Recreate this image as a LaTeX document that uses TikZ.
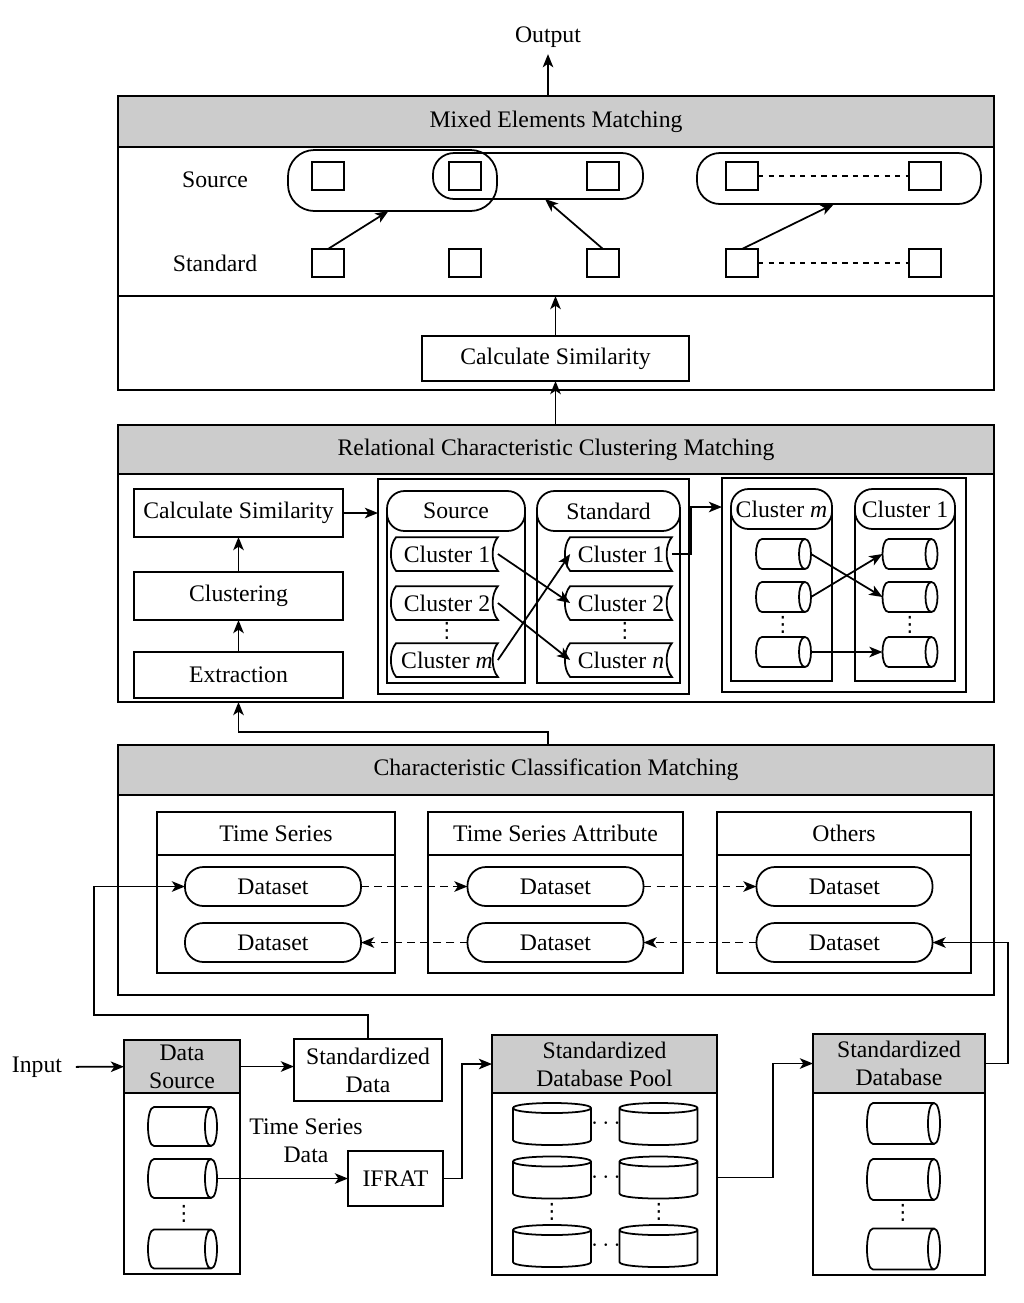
\documentclass[tikz,border=0pt]{standalone}
\usepackage{fontspec}
\setmainfont{Liberation Serif}
\newfontfamily\dotfont{DejaVu Sans}
\usepackage{tikz}
\usetikzlibrary{arrows.meta,calc,positioning}
\newlength\unitpx
\setlength\unitpx{0.02cm}
\tikzset{
    flow/.style={>={Stealth[length=7.5pt,width=6pt,inset=2pt]}, line width=1pt,
                 x=0.02cm, y=-0.02cm, font=\fontsize{13.5}{16}\selectfont},
    box/.style 2 args={draw, minimum width=#1\unitpx, minimum height=#2\unitpx,
                 inner sep=0pt, outer sep=0pt},
    head/.style 2 args={box={#1}{#2}, fill=gray!40},
    pill/.style 2 args={box={#1}{#2}, rounded corners=10pt},
    dataset/.style={pill={176}{39}, rounded corners=10.5pt},
    sq/.style={box={32}{28}},
    tag/.style={minimum width=100\unitpx, minimum height=32\unitpx, inner sep=0pt},
    drum/.style 2 args={minimum width=#1\unitpx, minimum height=#2\unitpx,
                 inner sep=0pt, outer sep=0pt},
    dots/.style={inner sep=0pt, font=\dotfont\fontsize{12}{12}\selectfont},
    dashflow/.style={->, dash pattern=on 4.5pt off 3pt},
}

\begin{document}
\begin{tikzpicture}[flow]
\useasboundingbox (0,0) rectangle (1024,1303);

% mixed elements matching
\node (out) at (548,37) {Output};
\node[head={876}{51}] (mem) at (556,121.5) {Mixed Elements Matching};
\node[box={876}{149}] (memTop) at (556,221.5) {};
\node[box={876}{94}] (memLow) at (556,343) {};
\node (srcLbl) at (215,180) {Source};
\node (stdLbl) at (215,263) {Standard};
\node[pill={209}{61}, rounded corners=15pt] (g1) at (392.5,180.5) {};
\node[pill={210}{46}, rounded corners=12pt] (g2) at (538,176) {};
\node[pill={284}{51}, rounded corners=13pt] (g3) at (839,178.5) {};
\foreach \i/\x in {1/328,2/465,3/603,4/742,5/925} {
    \node[sq] (a\i) at (\x,176) {};
    \node[sq] (b\i) at (\x,263) {};
}
\node[box={267}{45}] (simA) at (555.5,358.5) {Calculate Similarity};

\draw[dashed] (a4) -- (a5);
\draw[dashed] (b4) -- (b5);
\draw[->] (b1.north) -- ([xshift=-4\unitpx]g1.south);
\draw[->] (b3.north) -- ([xshift=7\unitpx]g2.south);
\draw[->] (b4.north) -- ([xshift=-5\unitpx]g3.south);
\draw[->] (mem.north -| out) -- (out);
\draw[->] (simA) -- (simA.north |- memTop.south);

% relational characteristic clustering matching
\node[head={876}{49}] (rcc) at (556,449.5) {Relational Characteristic Clustering Matching};
\node[box={876}{228}] (rccBody) at (556,588) {};
\node[box={209}{48}] (simB) at (238.5,513) {Calculate Similarity};
\node[box={209}{48}] (clus) at (238.5,596) {Clustering};
\node[box={209}{46}] (extr) at (238.5,675) {Extraction};

\node[box={311}{215}] (mid) at (533.5,586.5) {};
\node[box={138}{173}] (srcBox) at (456,596.5) {};
\node[pill={138}{40}, fill=white] (srcHead) at (456,511) {Source};
\node[box={143}{173}] (stdBox) at (608.5,596.5) {};
\node[pill={143}{40}, fill=white] (stdHead) at (608.5,511) {Standard};
\node[tag] (sc1) at (447,554) {Cluster 1};
\node[tag] (sc2) at (447,603) {Cluster 2};
\node[dots] (sDots) at (447,631) {⋮};
\node[tag] (scm) at (447,660) {Cluster \textit{m}};
\node[tag] (tc1) at (621,554) {Cluster 1};
\node[tag] (tc2) at (621,603) {Cluster 2};
\node[dots] (tDots) at (625,631) {⋮};
\node[tag] (tcn) at (621,660) {Cluster \textit{n}};
\foreach \t in {sc1,sc2,scm,tc1,tc2,tcn}
    \draw (\t.north west) -- (\t.north east)
          .. controls ($(\t.north east)+(-7,8)$) and ($(\t.south east)+(-7,-8)$) .. (\t.south east)
          -- (\t.south west)
          .. controls ($(\t.south west)+(-7,-8)$) and ($(\t.north west)+(-7,8)$) .. cycle;

\node[box={244}{214}] (rgt) at (844,585) {};
\coordinate (rgtIn) at (722,507);
\node[box={101}{171}] (cmBox) at (781.5,595.5) {};
\node[pill={101}{40}, fill=white] (cmHead) at (781.5,509) {Cluster \textit{m}};
\node[box={100}{171}] (c1Box) at (905,595.5) {};
\node[pill={100}{40}, fill=white] (c1Head) at (905,509) {Cluster 1};
\foreach \i/\y in {1/554,2/597,3/652} {
    \node[drum={55}{30}] (cm\i) at (783.5,\y) {};
    \node[drum={55}{30}] (co\i) at (910,\y) {};
}
\node[dots] (cmDots) at (783,625) {⋮};
\node[dots] (coDots) at (910,625) {⋮};

\draw[->] (extr) -- (clus);
\draw[->] (clus) -- (simB);
\draw[->] (simB) -- (simB -| mid.west);
\draw[->] (simA.south |- rcc.north) -- (simA);
\draw[->] (sc1.east) -- (tc2.west);
\draw[->] (sc2.east) -- (tcn.west);
\draw[->] (scm.east) -- (tc1.west);
\draw[->] (tc1.east) -| ($(rgtIn)+(-31,0)$) -- (rgtIn);
\draw[->] (cm1.east) -- (co2.west);
\draw[->] (cm2.east) -- (co1.west);
\draw[->] (cm3.east) -- (co3.west);

% characteristic classification matching
\node[head={876}{50}] (ccm) at (556,770) {Characteristic Classification Matching};
\node[box={876}{200}] (ccmBody) at (556,895) {};
\node[box={238}{43}] (tsHead) at (276,833.5) {Time Series};
\node[box={238}{118}] (tsBody) at (276,914) {};
\node[box={255}{43}] (tsaHead) at (555.5,833.5) {Time Series Attribute};
\node[box={255}{118}] (tsaBody) at (555.5,914) {};
\node[box={254}{43}] (othHead) at (844,833.5) {Others};
\node[box={254}{118}] (othBody) at (844,914) {};
\node[dataset] (d11) at (273,886.5) {Dataset};
\node[dataset] (d12) at (555.5,886.5) {Dataset};
\node[dataset] (d13) at (844.5,886.5) {Dataset};
\node[dataset] (d21) at (273,942.5) {Dataset};
\node[dataset] (d22) at (555.5,942.5) {Dataset};
\node[dataset] (d23) at (844.5,942.5) {Dataset};

\draw[dashflow] (d11) -- (d12);
\draw[dashflow] (d12) -- (d13);
\draw[dashflow] (d23) -- (d22);
\draw[dashflow] (d22) -- (d21);
\draw[->] ([xshift=-8\unitpx]ccm.north) -- ++(0,-13) -| (extr.south |- rccBody.south);

% sources and databases
\node (inp) at (37,1067) {Input};
\node[head={116}{53}, align=center] (dsHead) at (182,1066.5) {Data\\Source};
\node[box={116}{181}] (dsBody) at (182,1183.5) {};
\foreach \i/\y in {1/1126.5,2/1178.5,3/1249}
    \node[drum={69}{39}] (dc\i) at (182.5,\y) {};
\node[dots] (dsDots) at (184,1214) {⋮};
\node[box={148}{62}, align=center] (sd) at (368,1070) {Standardized\\Data};
\node[align=center] (tsd) at (306,1141) {Time Series\\Data};
\node[box={95}{55}] (ifr) at (395.5,1178.5) {IFRAT};

\node[head={225}{58}, align=center] (poolHead) at (604.5,1064) {Standardized\\Database Pool};
\node[box={225}{182}] (poolBody) at (604.5,1184) {};
\foreach \r/\y in {1/1124,2/1177.5,3/1246} {
    \node[drum={78}{42}] (pa\r) at (552,\y) {};
    \node[drum={78}{42}] (pb\r) at (658.5,\y) {};
    \node (ph\r) at (606,\y) {$\cdots$};
}
\node[dots] (paDots) at (552,1212) {⋮};
\node[dots] (pbDots) at (659,1212) {⋮};

\node[head={172}{59}, align=center] (sdbHead) at (899,1063.5) {Standardized\\Database};
\node[box={172}{182}] (sdbBody) at (899,1184) {};
\foreach \i/\y in {1/1123.5,2/1179.5,3/1249}
    \node[drum={73}{41}] (db\i) at (903.5,\y) {};
\node[dots] (dbDots) at (903,1213) {⋮};

% drum outlines
\foreach \d in {cm1,cm2,cm3,co1,co2,co3,dc1,dc2,dc3,db1,db2,db3}
    \draw ($(\d.north west)+(6,0)$)
          .. controls ($(\d.north west)+(-2,0)$) and ($(\d.south west)+(-2,0)$) .. ($(\d.south west)+(6,0)$)
          -- ($(\d.south east)+(-6,0)$)
          .. controls ($(\d.south east)+(2,0)$) and ($(\d.north east)+(2,0)$) .. ($(\d.north east)+(-6,0)$)
          -- cycle
          ($(\d.north east)+(-6,0)$)
          .. controls ($(\d.north east)+(-14,0)$) and ($(\d.south east)+(-14,0)$) .. ($(\d.south east)+(-6,0)$);
\foreach \d in {pa1,pa2,pa3,pb1,pb2,pb3}
    \draw ($(\d.north west)+(0,5)$) -- ($(\d.south west)+(0,-5)$)
          .. controls ($(\d.south west)+(0,1.7)$) and ($(\d.south east)+(0,1.7)$) .. ($(\d.south east)+(0,-5)$)
          -- ($(\d.north east)+(0,5)$)
          .. controls ($(\d.north east)+(0,-1.7)$) and ($(\d.north west)+(0,-1.7)$) .. cycle
          ($(\d.north west)+(0,5)$)
          .. controls ($(\d.north west)+(0,11.7)$) and ($(\d.north east)+(0,11.7)$) .. ($(\d.north east)+(0,5)$);

\draw[->, shorten <=4pt] (inp) -- (dsHead);
\draw[->] (dsHead) -- (dsHead -| sd.west);
\draw[->] (dc2.east) -- (dc2.east -| ifr.west);
\draw[->] (ifr.east) -- ++(19,0) |- (poolHead.west);
\draw[->] (poolBody.east |- pa2) -- ++(56,0) |- (sdbHead.west);
\draw[->] (sd.north) -- ++(0,-24) -| ([xshift=-91\unitpx]d11.west) -- (d11.west);
\draw[->] (sdbHead.east) -- ++(23,0) |- (d23.east);
\end{tikzpicture}
\end{document}
